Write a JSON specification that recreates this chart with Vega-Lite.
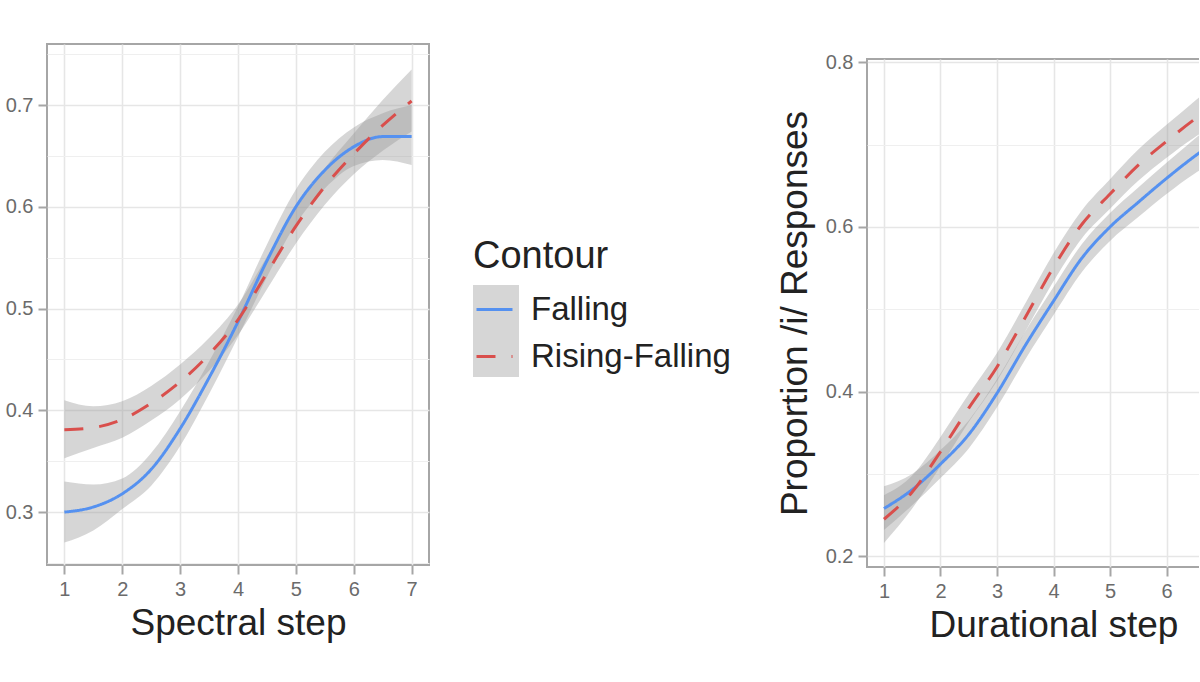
{
  "$schema": "https://vega.github.io/schema/vega-lite/v6.json",
  "background": "white",
  "padding": {"left": 4, "top": 43, "right": -42, "bottom": 0},
  "spacing": 43,
  "config": {
    "font": "Liberation Sans",
    "view": {"stroke": "#a6a6a6", "strokeWidth": 2},
    "axis": {
      "domain": false,
      "labelFontSize": 20,
      "labelColor": "#6b6b6b",
      "labelPadding": 5,
      "labelOverlap": false,
      "labelFlush": false,
      "tickSize": 9,
      "tickWidth": 2,
      "tickColor": "#a6a6a6",
      "titleFontSize": 37,
      "titleFontWeight": "normal",
      "titleColor": "#222222"
    }
  },
  "resolve": {
    "scale": {"x": "independent", "y": "independent", "color": "independent", "strokeDash": "independent", "fill": "independent"},
    "legend": {"color": "independent", "strokeDash": "independent", "fill": "independent"}
  },
  "hconcat": [
    {
      "width": 382,
      "height": 521,
      "data": {
        "values": [
          {"step": 1, "contour": "Falling", "fit": 0.300, "lo": 0.270, "hi": 0.330},
          {"step": 1.5, "contour": "Falling", "fit": 0.305, "lo": 0.282, "hi": 0.327},
          {"step": 2, "contour": "Falling", "fit": 0.318, "lo": 0.303, "hi": 0.333},
          {"step": 2.5, "contour": "Falling", "fit": 0.342, "lo": 0.326, "hi": 0.358},
          {"step": 3, "contour": "Falling", "fit": 0.382, "lo": 0.365, "hi": 0.399},
          {"step": 3.5, "contour": "Falling", "fit": 0.432, "lo": 0.416, "hi": 0.448},
          {"step": 4, "contour": "Falling", "fit": 0.487, "lo": 0.472, "hi": 0.502},
          {"step": 4.5, "contour": "Falling", "fit": 0.547, "lo": 0.531, "hi": 0.563},
          {"step": 5, "contour": "Falling", "fit": 0.600, "lo": 0.583, "hi": 0.617},
          {"step": 5.5, "contour": "Falling", "fit": 0.636, "lo": 0.618, "hi": 0.654},
          {"step": 6, "contour": "Falling", "fit": 0.659, "lo": 0.640, "hi": 0.678},
          {"step": 6.5, "contour": "Falling", "fit": 0.669, "lo": 0.646, "hi": 0.692},
          {"step": 7, "contour": "Falling", "fit": 0.669, "lo": 0.641, "hi": 0.700},
          {"step": 1, "contour": "Rising-Falling", "fit": 0.381, "lo": 0.353, "hi": 0.410},
          {"step": 1.5, "contour": "Rising-Falling", "fit": 0.383, "lo": 0.363, "hi": 0.404},
          {"step": 2, "contour": "Rising-Falling", "fit": 0.391, "lo": 0.373, "hi": 0.409},
          {"step": 2.5, "contour": "Rising-Falling", "fit": 0.407, "lo": 0.390, "hi": 0.424},
          {"step": 3, "contour": "Rising-Falling", "fit": 0.428, "lo": 0.411, "hi": 0.445},
          {"step": 3.5, "contour": "Rising-Falling", "fit": 0.455, "lo": 0.439, "hi": 0.471},
          {"step": 4, "contour": "Rising-Falling", "fit": 0.489, "lo": 0.474, "hi": 0.504},
          {"step": 4.5, "contour": "Rising-Falling", "fit": 0.535, "lo": 0.519, "hi": 0.551},
          {"step": 5, "contour": "Rising-Falling", "fit": 0.581, "lo": 0.564, "hi": 0.598},
          {"step": 5.5, "contour": "Rising-Falling", "fit": 0.620, "lo": 0.602, "hi": 0.638},
          {"step": 6, "contour": "Rising-Falling", "fit": 0.652, "lo": 0.632, "hi": 0.672},
          {"step": 6.5, "contour": "Rising-Falling", "fit": 0.680, "lo": 0.655, "hi": 0.705},
          {"step": 7, "contour": "Rising-Falling", "fit": 0.704, "lo": 0.674, "hi": 0.735}
        ]
      },
      "layer": [
        {
          "mark": {"type": "area", "opacity": 0.4, "interpolate": "monotone"},
          "encoding": {
            "x": {
              "field": "step", "type": "quantitative", "title": "Spectral step",
              "scale": {"domain": [0.7, 7.3], "nice": false, "zero": false},
              "axis": {
                "values": [1, 1.5, 2, 2.5, 3, 3.5, 4, 4.5, 5, 5.5, 6, 6.5, 7],
                "labelExpr": "datum.value % 1 === 0 ? format(datum.value, 'd') : ''",
                "tickOpacity": {"condition": {"test": "datum.value % 1 === 0", "value": 1}, "value": 0},
                "gridColor": {"condition": {"test": "datum.value % 1 === 0", "value": "#e6e6e6"}, "value": "#efefef"},
                "gridWidth": {"condition": {"test": "datum.value % 1 === 0", "value": 1.6}, "value": 1},
                "titlePadding": 6
              }
            },
            "y": {
              "field": "lo", "type": "quantitative", "title": null,
              "scale": {"domain": [0.248, 0.76], "nice": false, "zero": false},
              "axis": {
                "values": [0.25, 0.3, 0.35, 0.4, 0.45, 0.5, 0.55, 0.6, 0.65, 0.7, 0.75],
                "labelExpr": "abs(datum.value * 10 - round(datum.value * 10)) < 0.001 ? format(datum.value, '.1f') : ''",
                "tickOpacity": {"condition": {"test": "abs(datum.value * 10 - round(datum.value * 10)) < 0.001", "value": 1}, "value": 0},
                "gridColor": {"condition": {"test": "abs(datum.value * 10 - round(datum.value * 10)) < 0.001", "value": "#e6e6e6"}, "value": "#efefef"},
                "gridWidth": {"condition": {"test": "abs(datum.value * 10 - round(datum.value * 10)) < 0.001", "value": 1.6}, "value": 1}
              }
            },
            "y2": {"field": "hi"},
            "fill": {
              "field": "contour", "type": "nominal",
              "scale": {"domain": ["Rising-Falling", "Falling"], "range": ["#999999", "#999999"]},
              "legend": {
                "orient": "right",
                "offset": 44,
                "title": " ",
                "titleFontSize": 10,
                "titlePadding": 231,
                "symbolType": "square",
                "symbolSize": 2116,
                "symbolStrokeWidth": 0,
                "symbolOpacity": 0.4,
                "rowPadding": 0,
                "labelFontSize": 10,
                "labelExpr": "''"
              }
            }
          }
        },
        {
          "mark": {"type": "line", "strokeWidth": 3, "interpolate": "monotone"},
          "encoding": {
            "x": {"field": "step", "type": "quantitative"},
            "y": {"field": "fit", "type": "quantitative"},
            "color": {
              "field": "contour", "type": "nominal",
              "scale": {"domain": ["Falling", "Rising-Falling"], "range": ["#5591F0", "#D94F4C"]},
              "legend": {
                "orient": "none", "legendX": 426, "legendY": 194,
                "title": "Contour", "titleFontSize": 38, "titleFontWeight": "normal", "titleColor": "#222222",
                "titlePadding": 14, "titleLimit": 400,
                "labelFontSize": 33, "labelColor": "#222222", "labelOffset": 17, "labelLimit": 400,
                "symbolType": "stroke", "symbolSize": 1296, "symbolStrokeWidth": 3, "symbolOffset": 2,
                "rowPadding": 10
              }
            },
            "strokeDash": {
              "field": "contour", "type": "nominal",
              "scale": {"domain": ["Falling", "Rising-Falling"], "range": [[1, 0], [19, 16]]},
              "legend": {
                "orient": "none", "legendX": 426, "legendY": 194,
                "title": "Contour", "titleFontSize": 38, "titleFontWeight": "normal", "titleColor": "#222222",
                "titlePadding": 14, "titleLimit": 400,
                "labelFontSize": 33, "labelColor": "#222222", "labelOffset": 17, "labelLimit": 400,
                "symbolType": "stroke", "symbolSize": 1296, "symbolStrokeWidth": 3, "symbolOffset": 2,
                "rowPadding": 10
              }
            }
          }
        }
      ]
    },
    {
      "spacing": 0,
      "vconcat": [
        {
          "width": 1,
          "height": 7,
          "view": {"stroke": null},
          "data": {"values": [{"gap": 0}]},
          "mark": {"type": "point", "opacity": 0}
        },
        {
          "width": 373,
          "height": 508,
          "data": {
            "values": [
              {"step": 1, "contour": "Falling", "fit": 0.258, "lo": 0.232, "hi": 0.285},
              {"step": 1.5, "contour": "Falling", "fit": 0.281, "lo": 0.262, "hi": 0.300},
              {"step": 2, "contour": "Falling", "fit": 0.312, "lo": 0.295, "hi": 0.329},
              {"step": 2.5, "contour": "Falling", "fit": 0.348, "lo": 0.331, "hi": 0.365},
              {"step": 3, "contour": "Falling", "fit": 0.398, "lo": 0.381, "hi": 0.415},
              {"step": 3.5, "contour": "Falling", "fit": 0.456, "lo": 0.439, "hi": 0.473},
              {"step": 4, "contour": "Falling", "fit": 0.510, "lo": 0.493, "hi": 0.527},
              {"step": 4.5, "contour": "Falling", "fit": 0.562, "lo": 0.545, "hi": 0.579},
              {"step": 5, "contour": "Falling", "fit": 0.600, "lo": 0.583, "hi": 0.617},
              {"step": 5.5, "contour": "Falling", "fit": 0.630, "lo": 0.612, "hi": 0.648},
              {"step": 6, "contour": "Falling", "fit": 0.659, "lo": 0.640, "hi": 0.678},
              {"step": 6.5, "contour": "Falling", "fit": 0.686, "lo": 0.665, "hi": 0.707},
              {"step": 7, "contour": "Falling", "fit": 0.710, "lo": 0.684, "hi": 0.736},
              {"step": 1, "contour": "Rising-Falling", "fit": 0.245, "lo": 0.216, "hi": 0.274},
              {"step": 1.5, "contour": "Rising-Falling", "fit": 0.278, "lo": 0.258, "hi": 0.298},
              {"step": 2, "contour": "Rising-Falling", "fit": 0.327, "lo": 0.309, "hi": 0.345},
              {"step": 2.5, "contour": "Rising-Falling", "fit": 0.380, "lo": 0.363, "hi": 0.397},
              {"step": 3, "contour": "Rising-Falling", "fit": 0.430, "lo": 0.413, "hi": 0.447},
              {"step": 3.5, "contour": "Rising-Falling", "fit": 0.490, "lo": 0.473, "hi": 0.507},
              {"step": 4, "contour": "Rising-Falling", "fit": 0.551, "lo": 0.534, "hi": 0.568},
              {"step": 4.5, "contour": "Rising-Falling", "fit": 0.603, "lo": 0.586, "hi": 0.620},
              {"step": 5, "contour": "Rising-Falling", "fit": 0.640, "lo": 0.622, "hi": 0.658},
              {"step": 5.5, "contour": "Rising-Falling", "fit": 0.675, "lo": 0.656, "hi": 0.694},
              {"step": 6, "contour": "Rising-Falling", "fit": 0.704, "lo": 0.684, "hi": 0.724},
              {"step": 6.5, "contour": "Rising-Falling", "fit": 0.731, "lo": 0.709, "hi": 0.753},
              {"step": 7, "contour": "Rising-Falling", "fit": 0.755, "lo": 0.728, "hi": 0.782}
            ]
          },
          "layer": [
            {
              "mark": {"type": "area", "opacity": 0.4, "interpolate": "monotone"},
              "encoding": {
                "x": {
                  "field": "step", "type": "quantitative", "title": "Durational step",
                  "scale": {"domain": [0.7, 7.3], "nice": false, "zero": false},
                  "axis": {
                    "values": [1, 1.5, 2, 2.5, 3, 3.5, 4, 4.5, 5, 5.5, 6, 6.5, 7],
                    "labelExpr": "datum.value % 1 === 0 ? format(datum.value, 'd') : ''",
                    "tickOpacity": {"condition": {"test": "datum.value % 1 === 0", "value": 1}, "value": 0},
                    "gridColor": {"condition": {"test": "datum.value % 1 === 0", "value": "#e6e6e6"}, "value": "#efefef"},
                    "gridWidth": {"condition": {"test": "datum.value % 1 === 0", "value": 1.6}, "value": 1},
                    "titlePadding": 6
                  }
                },
                "y": {
                  "field": "lo", "type": "quantitative", "title": "Proportion /i/ Responses",
                  "scale": {"domain": [0.187, 0.804], "nice": false, "zero": false},
                  "axis": {
                    "values": [0.2, 0.3, 0.4, 0.5, 0.6, 0.7, 0.8],
                    "labelExpr": "round(datum.value * 10) % 2 === 0 ? format(datum.value, '.1f') : ''",
                    "tickOpacity": {"condition": {"test": "round(datum.value * 10) % 2 === 0", "value": 1}, "value": 0},
                    "gridColor": {"condition": {"test": "round(datum.value * 10) % 2 === 0", "value": "#e6e6e6"}, "value": "#efefef"},
                    "gridWidth": {"condition": {"test": "round(datum.value * 10) % 2 === 0", "value": 1.6}, "value": 1},
                    "titlePadding": 11
                  }
                },
                "y2": {"field": "hi"},
                "fill": {
                  "field": "contour", "type": "nominal",
                  "scale": {"domain": ["Falling", "Rising-Falling"], "range": ["#999999", "#999999"]},
                  "legend": null
                }
              }
            },
            {
              "mark": {"type": "line", "strokeWidth": 3, "interpolate": "monotone"},
              "encoding": {
                "x": {"field": "step", "type": "quantitative"},
                "y": {"field": "fit", "type": "quantitative"},
                "color": {
                  "field": "contour", "type": "nominal",
                  "scale": {"domain": ["Falling", "Rising-Falling"], "range": ["#5591F0", "#D94F4C"]},
                  "legend": null
                },
                "strokeDash": {
                  "field": "contour", "type": "nominal",
                  "scale": {"domain": ["Falling", "Rising-Falling"], "range": [[1, 0], [19, 16]]},
                  "legend": null
                }
              }
            }
          ]
        }
      ]
    }
  ]
}
